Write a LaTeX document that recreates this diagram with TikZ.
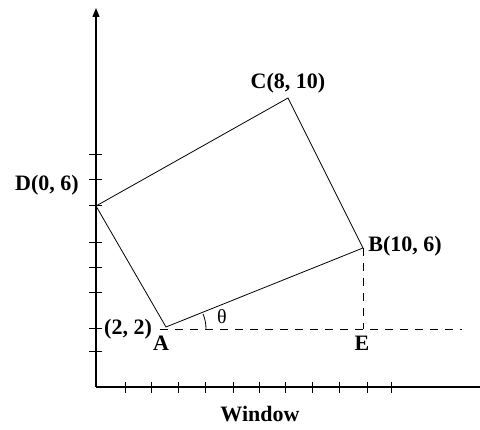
\documentclass[tikz,border=0pt]{standalone}
\usepackage{fontspec}
\setmainfont{Liberation Serif}
\usetikzlibrary{arrows.meta}
\begin{document}
\begin{tikzpicture}[x=1pt,y=-1pt,
  axisline/.style={line width=1.3pt},
  tickline/.style={line width=1pt},
  shapeline/.style={line width=0.8pt},
  dashline/.style={line width=0.9pt, dash pattern=on 8pt off 7pt},
  lbl/.style={font=\fontsize{22}{24}\selectfont\bfseries, inner sep=0pt, anchor=base},
  greek/.style={font=\fontsize{20}{22}\selectfont, inner sep=0pt, anchor=base}]
\useasboundingbox (0,0) rectangle (480,430);
% axes
\coordinate (O) at (96,387);
\coordinate (Ytop) at (96,8);
\coordinate (Xend) at (480,387);
\draw[axisline, -{Triangle[length=9pt,width=7pt]}] (O) -- (Ytop);
\draw[axisline] (O) -- (Xend);
\foreach \y in {155,180,206,243,268,293,329,352}
  \draw[tickline] (89,\y) -- (102,\y);
\foreach \x in {125,151,178,205,233,259,285,312,339,367,391}
  \draw[tickline] (\x,382) -- (\x,393);
% points
\coordinate (A) at (166,327);
\coordinate (B) at (363,248);
\coordinate (C) at (288,98);
\coordinate (D) at (96,206);
\coordinate (E) at (363,329);
\coordinate (Hs) at (160,329);
\coordinate (He) at (462,329);
% shapes
\draw[shapeline] (A) -- (B) -- (C) -- (D) -- cycle;
\draw[dashline] (Hs) -- (He);
\draw[dashline] (B) -- (E);
\draw[shapeline] (A) ++(40,2) arc[start angle=0, end angle=-22, radius=40];
% labels
\node[lbl] (lC) at (288,89) {C(8, 10)};
\node[lbl] (lD) at (47,191) {D(0, 6)};
\node[lbl] (lB) at (405,252) {B(10, 6)};
\node[lbl] (lA2) at (128,335) {(2, 2)};
\node[lbl] (lA) at (161,351) {A};
\node[lbl] (lE) at (362,351) {E};
\node[greek] (th) at (222,324) {θ};
\node[lbl] (lW) at (260,422) {Window};
\end{tikzpicture}
\end{document}
